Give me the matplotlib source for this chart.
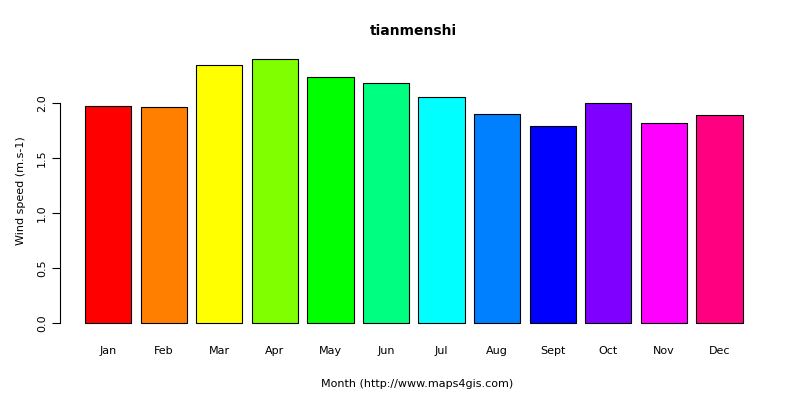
import matplotlib
matplotlib.use("Agg")
import matplotlib.pyplot as plt

months = ["Jan", "Feb", "Mar", "Apr", "May", "Jun", "Jul", "Aug", "Sept", "Oct", "Nov", "Dec"]
wind = [1.97, 1.96, 2.345, 2.40, 2.23, 2.18, 2.05, 1.90, 1.79, 2.00, 1.82, 1.89]
colors = ["#FF0000", "#FF8000", "#FFFF00", "#80FF00", "#00FF00", "#00FF80",
          "#00FFFF", "#0080FF", "#0000FF", "#8000FF", "#FF00FF", "#FF0080"]

fig = plt.figure(figsize=(8, 4), dpi=100)
ax = fig.add_axes([60 / 800, 1 - 334 / 400, 715 / 800, 286 / 400])

# R barplot layout: width 1, space 0.2
xs = [0.2 + i * 1.2 + 0.5 for i in range(len(months))]
ax.bar(xs, wind, width=1.0, color=colors, edgecolor="black", linewidth=0.8)
ax.set_xlim(-0.339, 15.10)
ax.set_ylim(-0.096, 2.496)

for s in ["top", "right", "bottom"]:
    ax.spines[s].set_visible(False)
ax.spines["left"].set_bounds(0, 2.0)
ax.set_yticks([0, 0.5, 1.0, 1.5, 2.0])
ax.set_yticklabels(["0.0", "0.5", "1.0", "1.5", "2.0"], rotation=90, va="center", fontsize=8)
ax.set_xticks(xs)
ax.set_xticklabels(months, fontsize=8)
ax.tick_params(axis="x", length=0, pad=9)
ax.tick_params(axis="y", length=6)

ax.set_ylabel("Wind speed (m.s-1)", fontsize=8, labelpad=8)
ax.set_xlabel("Month (http://www.maps4gis.com)", fontsize=8, labelpad=16)
fig.text(413 / 800, 1 - 31 / 400, "tianmenshi", ha="center", va="center",
         fontsize=10, fontweight="bold")

fig.savefig("out.png", dpi=100)
